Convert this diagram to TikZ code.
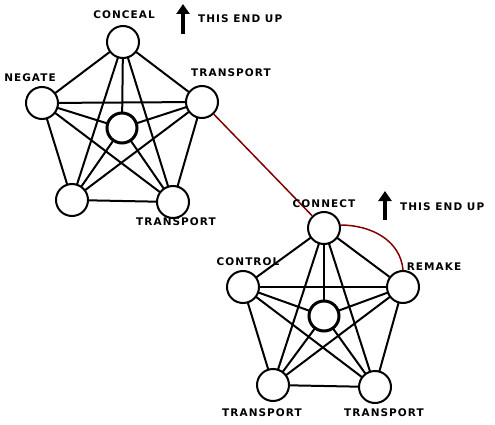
\documentclass[tikz,border=0pt]{standalone}
\usepackage{fontspec}
\newfontfamily\lblfont[LetterSpace=10]{DejaVu Sans Bold}
\usetikzlibrary{arrows.meta}
\tikzset{
  vert/.style={circle, draw=black, line width=2pt, fill=white, minimum size=32pt, inner sep=0pt},
  hub/.style={circle, draw=black, line width=3pt, fill=white, minimum size=30pt, inner sep=0pt},
  edge/.style={line width=2pt, black},
  lbl/.style={font=\lblfont\fontsize{10.5}{12}\selectfont, inner sep=0pt},
  link/.style={line width=1.5pt, draw={rgb,255:red,128;green,0;blue,0}},
  uparrow/.style={line width=4pt, -{Triangle[width=13pt,length=10pt]}},
}
\begin{document}
\begin{tikzpicture}[x=1pt,y=-1pt]
\useasboundingbox (0,0) rectangle (495,425);
% top pentagon
\coordinate (A0) at (122,128);
\coordinate (A1) at (123,42);
\coordinate (A2) at (202,102);
\coordinate (A3) at (173,202);
\coordinate (A4) at (72,200);
\coordinate (A5) at (42,103);
% bottom pentagon
\coordinate (B0) at (324,316);
\coordinate (B1) at (324,228);
\coordinate (B2) at (403,287);
\coordinate (B3) at (375,387);
\coordinate (B4) at (273,385);
\coordinate (B5) at (243,287);
% edges (complete graph K6)
\foreach \p in {A,B}{
  \foreach \i/\j in {0/1,0/2,0/3,0/4,0/5,1/2,1/3,1/4,1/5,2/3,2/4,2/5,3/4,3/5,4/5}{
    \draw[edge] (\p\i) -- (\p\j);
  }
}
% nodes
\node[hub]  (a0) at (A0) {};
\node[vert] (a1) at (A1) {};
\node[vert] (a2) at (A2) {};
\node[vert] (a3) at (A3) {};
\node[vert] (a4) at (A4) {};
\node[vert] (a5) at (A5) {};
\node[hub]  (b0) at (B0) {};
\node[vert] (b1) at (B1) {};
\node[vert] (b2) at (B2) {};
\node[vert] (b3) at (B3) {};
\node[vert] (b4) at (B4) {};
\node[vert] (b5) at (B5) {};
% red links
\draw[link] (a2) -- (b1);
\draw[link] (b1.10) to[out=0,in=95] (b2.north);
% labels
\node[lbl] (la1) at (124,15) {CONCEAL};
\node[lbl] (la2) at (231,73) {TRANSPORT};
\node[lbl] (la3) at (176,222) {TRANSPORT};
\node[lbl] (la5) at (30,78) {NEGATE};
\node[lbl] (lb1) at (324,204) {CONNECT};
\node[lbl] (lb2) at (434,267) {REMAKE};
\node[lbl] (lb3) at (384,413) {TRANSPORT};
\node[lbl] (lb4) at (262,413) {TRANSPORT};
\node[lbl] (lb5) at (248,262) {CONTROL};
% this end up
\coordinate (ua1) at (183,34);
\coordinate (ua2) at (183,4);
\draw[uparrow] (ua1) -- (ua2);
\node[lbl, anchor=west] (ut1) at (198,19) {THIS END UP};
\coordinate (ub1) at (385,220);
\coordinate (ub2) at (385,191);
\draw[uparrow] (ub1) -- (ub2);
\node[lbl, anchor=west] (ut2) at (400,207) {THIS END UP};
\end{tikzpicture}
\end{document}
